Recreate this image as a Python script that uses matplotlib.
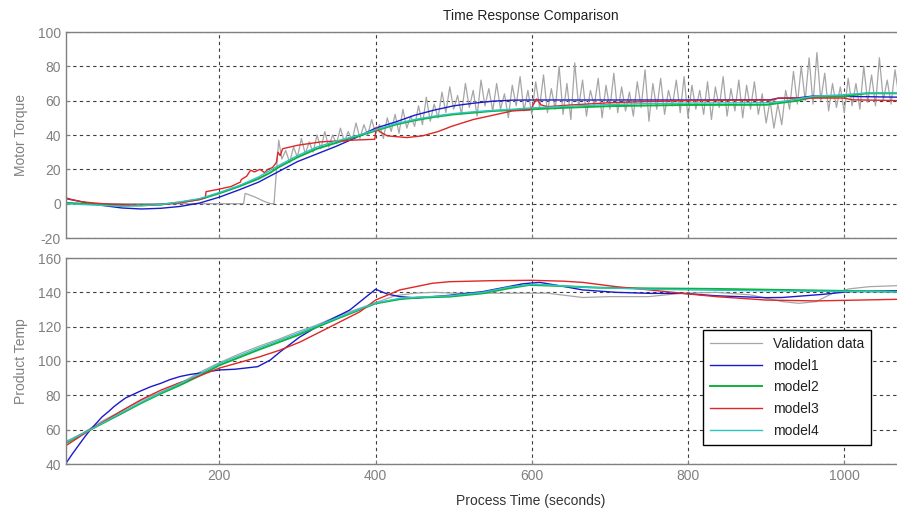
import matplotlib
matplotlib.use("Agg")
import matplotlib.pyplot as plt

# ---------------------------------------------------------------
# data (time in seconds)
# ---------------------------------------------------------------
# top panel: Motor Torque
val_top_t = [3, 100, 200, 231, 233, 245, 259, 266, 270, 276,
             280, 285, 290, 295, 300, 305, 310, 315, 320, 325, 330, 335, 340, 345, 350,
             355, 360, 365, 370, 375, 380, 385, 390, 395, 400, 405, 410, 415, 420, 425,
             430, 435, 440, 445, 450, 455, 460, 465, 470, 475, 480, 485, 490, 495, 500,
             505, 510, 515, 520, 525, 530, 535, 540, 545, 550, 555, 560, 565, 570, 575,
             580, 585, 590, 595, 600, 605, 610, 615, 620, 625, 630, 635, 640, 645, 650,
             655, 660, 665, 670, 675, 680, 685, 690, 695, 700, 705, 710, 715, 720, 725,
             730, 735, 740, 745, 750, 755, 760, 765, 770, 775, 780, 785, 790, 795, 800,
             805, 810, 815, 820, 825, 830, 835, 840, 845, 850, 855, 860, 865, 870, 875,
             880, 885, 890, 895, 900, 905, 910, 915, 920, 925, 930, 935, 940, 945, 950,
             955, 960, 965, 970, 975, 980, 985, 990, 995, 1000, 1005, 1010, 1015, 1020, 1025,
             1030, 1035, 1040, 1045, 1050, 1055, 1060, 1065, 1070]
val_top_v = [0, 0, 0, 0, 6, 4, 1, 0, 0, 37,
             26, 31, 24, 33, 27, 38, 29, 36, 30, 40, 32, 42, 33, 40, 35,
             44, 36, 42, 37, 47, 38, 46, 40, 49, 41, 46, 38, 50, 42, 52,
             41, 55, 44, 51, 45, 57, 46, 62, 48, 58, 50, 65, 53, 68, 55,
             63, 52, 70, 56, 66, 51, 72, 57, 67, 54, 70, 55, 64, 50, 69,
             57, 74, 54, 66, 52, 71, 56, 75, 53, 67, 55, 80, 52, 70, 49,
             82, 56, 72, 51, 66, 57, 73, 50, 69, 55, 76, 53, 68, 54, 65,
             51, 71, 56, 78, 48, 70, 55, 73, 52, 66, 57, 72, 53, 74, 50,
             69, 55, 66, 52, 71, 49, 68, 56, 74, 51, 67, 54, 72, 50, 69,
             55, 71, 52, 64, 47, 60, 44, 58, 46, 66, 55, 77, 58, 80, 60,
             85, 58, 88, 60, 76, 54, 70, 56, 68, 53, 73, 57, 70, 55, 80,
             59, 75, 57, 85, 60, 72, 58, 78, 62]

m1_top_t = [3, 25, 50, 75, 100, 125, 150, 175, 200, 225, 250, 275, 300, 325, 350, 375,
            400, 425, 450, 475, 500, 525, 550, 575, 600, 700, 800, 905, 915, 940, 960, 1000, 1075]
m1_top_v = [3, 1, -1, -2.5, -3.1, -2.7, -1.6, 0.4, 3.8, 8, 12.5, 18.5, 24.5, 29, 33.5, 38.5,
            44, 47.5, 51.5, 54.5, 57, 58.5, 59.7, 60.3, 60.4, 60.4, 60.4, 60.5, 61.4, 61.6, 62.7, 62.5, 62]

m2_top_t = [3, 25, 50, 75, 100, 125, 150, 175, 200, 225, 250, 265, 275, 300, 325, 350, 375,
            400, 425, 450, 475, 500, 525, 550, 575, 600, 625, 650, 700, 750, 800, 900, 915, 940,
            960, 1000, 1015, 1030, 1075]
m2_top_v = [0.5, 0, -0.5, -1, -1, -0.5, 0.8, 2.5, 6, 10, 14.5, 18, 21, 27, 32, 35.5, 39,
            42.5, 46, 48.5, 50.5, 52, 53, 54, 54.5, 55, 55.5, 56, 56.8, 57.2, 57.5, 57.6, 58.5, 60,
            62, 62.5, 63.5, 64.3, 64.3]

m3_top_t = [3, 10, 25, 50, 75, 100, 125, 150, 175, 182, 183, 200, 215, 227, 228, 235, 240,
            245, 252, 258, 262, 268, 273, 275, 278, 281, 300, 330, 370, 399, 401, 405, 415,
            440, 460, 480, 497, 525, 550, 575, 597, 600, 606, 612, 620, 650, 700, 750, 800,
            910, 915, 1000, 1010, 1075]
m3_top_v = [3.5, 2.5, 1, 0, -0.5, -1, -0.5, 0.5, 2.5, 3.5, 7, 8.5, 10, 12.6, 14, 16, 19.5,
            18.5, 20, 18, 20, 21, 24, 30, 28, 32, 34, 36, 37, 37.5, 44.5, 42, 39.5,
            38.5, 39.5, 42, 45, 49, 51.5, 54, 54.6, 56, 61, 57.5, 56.5, 57.5, 58.8, 59.5, 60,
            60.4, 61.5, 61.5, 60.5, 60]

m4_top_t = [3, 25, 50, 75, 100, 125, 150, 175, 200, 225, 250, 275, 300, 325, 350, 375,
            400, 425, 450, 475, 500, 525, 550, 575, 600, 650, 700, 750, 800, 900, 920, 940,
            960, 1000, 1030, 1075]
m4_top_v = [0, -0.5, -1, -1.5, -1.2, -0.5, 1, 3, 6.5, 10.5, 15.5, 22, 28, 33, 36.5, 39.5,
            43, 46.5, 49, 51, 52.5, 53.5, 54.3, 55, 55.8, 56.8, 57.8, 58.3, 58.6, 58.8, 59.5, 61,
            62.5, 63.5, 64.5, 64.5]

# bottom panel: Product Temp
val_bot_t = [3, 25, 50, 75, 100, 125, 150, 175, 200, 225, 250, 275, 300, 325, 350, 375,
             400, 425, 450, 475, 500, 550, 620, 665, 700, 750, 790, 836, 880, 921, 942, 964,
             985, 1006, 1032, 1075]
val_bot_v = [53, 58, 65, 71, 77, 82, 87, 93.5, 99, 104, 108.5, 112.5, 117, 121, 126, 130,
             134, 138, 139.5, 140, 139.5, 139.5, 139.5, 137, 137.5, 137.5, 139.4, 140, 138.5, 134.6, 133.6, 134.6,
             139.4, 142, 143.3, 144]

m1_bot_t = [3, 12, 20, 28, 35, 43, 50, 58, 65, 73, 80, 90, 99, 112, 125, 137, 150, 163,
            176, 185, 201, 220, 249, 265, 278, 303, 329, 367, 400, 415, 431, 453, 495, 537,
            589, 610, 640, 665, 708, 751, 793, 836, 900, 921, 972, 1006, 1075]
m1_bot_v = [40, 46, 51, 56, 60, 64, 67.5, 70.5, 73.4, 76.2, 78.5, 80.6, 82.5, 85, 87, 89.2, 91, 92.2,
            93, 93.8, 94.8, 95.2, 96.7, 100.5, 105.4, 114, 121, 129.7, 141.8, 139, 137.5, 136.7, 138.3, 140.4,
            145, 145.8, 143.5, 141.4, 140, 139.4, 139.4, 138, 136.9, 137, 138.8, 140.4, 141]

m2_bot_t = [3, 35, 75, 100, 125, 150, 175, 200, 250, 300, 350, 400, 431, 453, 495, 537,
            570, 597, 623, 687, 751, 836, 921, 1006, 1075]
m2_bot_v = [52, 60, 69.5, 75.5, 81, 86, 91.5, 97.5, 106.5, 115, 124.5, 133.5, 136, 136.9, 137.5, 139.4,
            142.3, 144.3, 143.9, 142.7, 142.3, 142, 141.4, 140.8, 140.3]

m3_bot_t = [3, 35, 75, 100, 125, 150, 167, 201, 252, 278, 303, 338, 380, 400, 431, 473,
            495, 550, 600, 640, 665, 708, 751, 793, 836, 900, 964, 1075]
m3_bot_v = [50.5, 60, 71, 77.5, 83, 87.5, 90, 96, 102.5, 106.4, 111, 119, 128.7, 135.5, 141.4, 145.3,
            146.2, 146.8, 147, 146.5, 145.8, 143.3, 141.4, 139.4, 137.5, 135.5, 135, 136]

m4_bot_t = [3, 35, 75, 100, 125, 150, 175, 200, 250, 300, 350, 400, 431, 453, 495, 537,
            570, 600, 623, 665, 751, 836, 921, 1006, 1075]
m4_bot_v = [52.5, 60, 70, 76, 81.5, 87, 92.5, 98.5, 107.5, 116, 125, 133.8, 136.5, 137.2, 138, 140,
            143, 144.7, 144.2, 143, 141.8, 141.2, 140.8, 140.5, 140.2]

labels = ["Validation data", "model1", "model2", "model3", "model4"]
colors = ["#a6a6a6", "#1a1acc", "#12b03c", "#e02626", "#2ec4c4"]
widths = [0.9, 1.0, 1.4, 1.0, 1.0]

top_yticks = [-20, 0, 20, 40, 60, 80, 100]
bot_yticks = [40, 60, 80, 100, 120, 140, 160]
xticks = [200, 400, 600, 800, 1000]

# ---------------------------------------------------------------
# figure — axes run past the right edge, as in the cropped original
# ---------------------------------------------------------------
plt.rcParams['font.family'] = ['Liberation Sans', 'DejaVu Sans']
plt.rcParams['axes.unicode_minus'] = False
fig = plt.figure(figsize=(8.97, 5.09), dpi=100)
W, H = 897.0, 509.0
left, right = 65.7, 995.0
ax1 = fig.add_axes([left / W, 1 - 238 / H, (right - left) / W, 206 / H])
ax2 = fig.add_axes([left / W, 1 - 464 / H, (right - left) / W, 206 / H])

grey = "#808080"
top_series = [(val_top_t, val_top_v), (m1_top_t, m1_top_v), (m2_top_t, m2_top_v),
              (m3_top_t, m3_top_v), (m4_top_t, m4_top_v)]
bot_series = [(val_bot_t, val_bot_v), (m1_bot_t, m1_bot_v), (m2_bot_t, m2_bot_v),
              (m3_bot_t, m3_bot_v), (m4_bot_t, m4_bot_v)]

for (t, v), c, lw, lab in zip(top_series, colors, widths, labels):
    ax1.plot(t, v, color=c, lw=lw, label=lab)
for (t, v), c, lw, lab in zip(bot_series, colors, widths, labels):
    ax2.plot(t, v, color=c, lw=lw, label=lab)

for ax, yt in [(ax1, top_yticks), (ax2, bot_yticks)]:
    ax.set_xlim(3.3, 1193)
    ax.set_ylim(yt[0], yt[-1])
    ax.set_yticks(yt)
    ax.set_xticks(xticks)
    ax.grid(True, color="#3c3c3c", lw=0.8, linestyle=(0, (3, 3)))
    ax.tick_params(direction="in", length=3, colors=grey, labelsize=10, labelcolor=grey)
    for s in ax.spines.values():
        s.set_color(grey)
        s.set_linewidth(1.0)

ax1.tick_params(labelbottom=False)
ax1.set_ylabel("Motor Torque", color=grey, fontsize=10, labelpad=7)
ax2.set_ylabel("Product Temp", color=grey, fontsize=10, labelpad=7)
ax2.set_xlabel("Process Time (seconds)", color="#333333", fontsize=10, labelpad=8)
ax1.set_title("Time Response Comparison", color="#222222", fontsize=10, pad=9)

leg = ax2.legend(loc="upper left", bbox_to_anchor=(0.686, 0.650), borderaxespad=0,
                 fancybox=False, framealpha=1, edgecolor="black", fontsize=10,
                 handlelength=3.7, labelspacing=0.55, borderpad=0.5)
leg.get_frame().set_linewidth(1.0)
for txt in leg.get_texts():
    txt.set_color("#222222")

fig.savefig("out.png", dpi=100)
